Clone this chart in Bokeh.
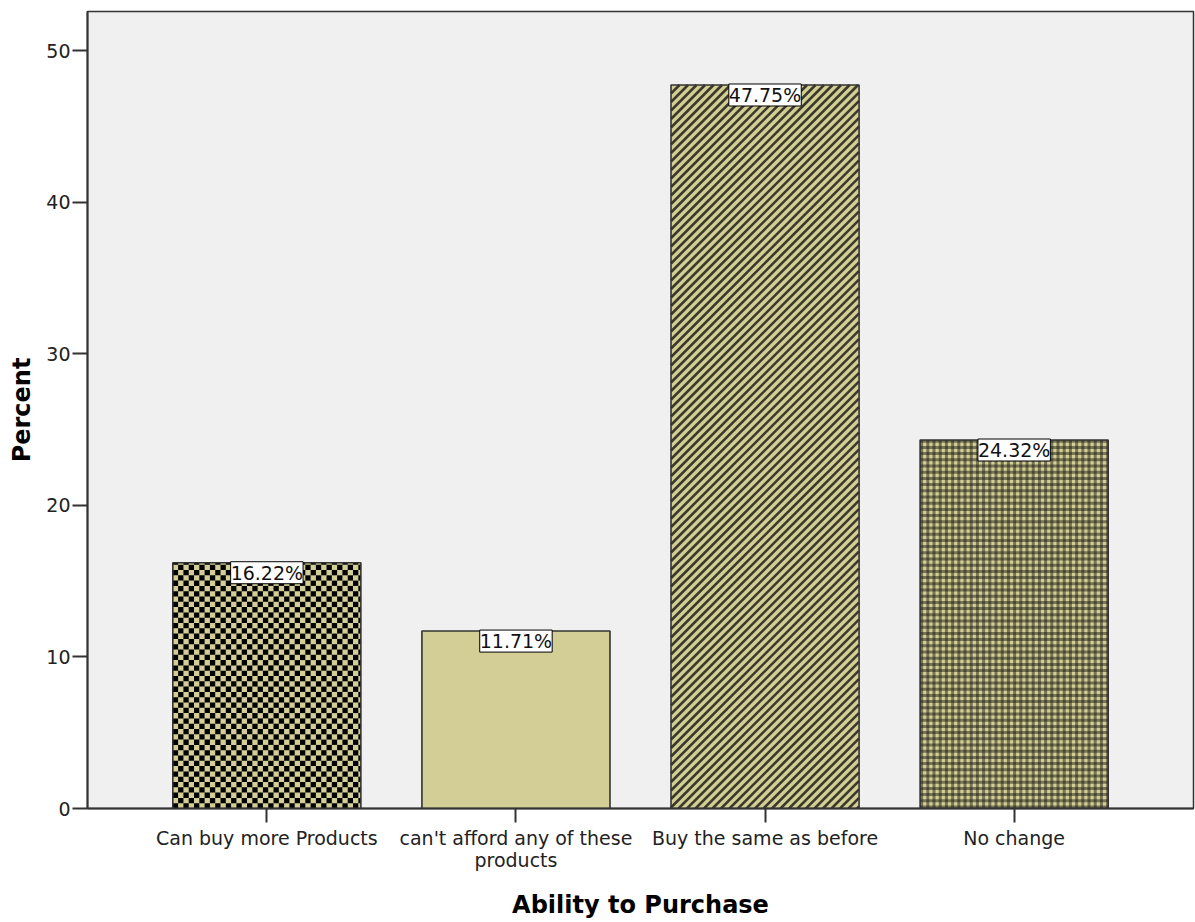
import math
from bokeh.plotting import figure
from bokeh.models import ColumnDataSource, Range1d, LabelSet, FixedTicker
from bokeh.core.properties import value
from bokeh.embed import file_html
from bokeh.resources import INLINE

# Survey responses: ability to purchase
categories = ["Can buy more Products", "can't afford any of these\nproducts",
              "Buy the same as before", "No change"]
percent = [16.22, 11.71, 47.75, 24.32]
y_ticks = [0, 10, 20, 30, 40, 50]

# fill pattern per category
fills = ["checker", "plain", "diagonal", "gingham"]

TAN = "#d3ce96"
DARK = "#1c1c12"

WIDTH, HEIGHT = 1195, 922
B_LEFT, B_RIGHT, B_TOP, B_BOTTOM = 87, 2, 11, 114
FRAME_W = WIDTH - B_LEFT - B_RIGHT
FRAME_H = HEIGHT - B_TOP - B_BOTTOM
PAD = 0.22
Y_MAX = 52.6
BAR_W = 0.755

X0, X1 = -PAD, len(categories) + PAD
px_x = FRAME_W / (X1 - X0)      # pixels per x unit
px_y = FRAME_H / Y_MAX          # pixels per y unit

centers = [i + 0.5 for i in range(len(categories))]


def dx(px):
    return px / px_x + X0


def dy(py):
    return py / px_y


p = figure(width=WIDTH, height=HEIGHT, output_backend="svg", toolbar_location=None,
           x_range=Range1d(X0, X1), y_range=Range1d(0, Y_MAX),
           min_border_left=B_LEFT, min_border_right=B_RIGHT,
           min_border_top=B_TOP, min_border_bottom=B_BOTTOM)

p.background_fill_color = "#f0f0f0"
p.border_fill_color = "white"
p.outline_line_color = "#333333"
p.outline_line_width = 1.5
p.xgrid.grid_line_color = None
p.ygrid.grid_line_color = None

src = ColumnDataSource(dict(x=centers, pct=percent,
                            label=[f"{v:.2f}%" for v in percent]))

# base tan fill
p.vbar(x="x", top="pct", width=BAR_W, source=src,
       fill_color=TAN, line_color=None)

# pattern overlays, built in pixel space and mapped to data space
chk = dict(left=[], right=[], bottom=[], top=[])
gh = dict(left=[], right=[], bottom=[], top=[])
gv = dict(left=[], right=[], bottom=[], top=[])
diag_xs, diag_ys = [], []

for xc, pct, kind in zip(centers, percent, fills):
    L = (xc - BAR_W / 2 - X0) * px_x
    R = (xc + BAR_W / 2 - X0) * px_x
    T = pct * px_y
    if kind == "checker":
        c = 5.3
        nx = math.ceil((R - L) / c)
        ny = math.ceil(T / c)
        for ix in range(nx):
            for iy in range(ny):
                if (ix + iy) % 2 == 0:
                    chk["left"].append(dx(L + ix * c))
                    chk["right"].append(dx(min(L + (ix + 1) * c, R)))
                    chk["bottom"].append(dy(iy * c))
                    chk["top"].append(dy(min((iy + 1) * c, T)))
    elif kind == "gingham":
        c, w = 6.2, 3.0
        y = 0.0
        while y < T:
            gh["left"].append(dx(L)); gh["right"].append(dx(R))
            gh["bottom"].append(dy(y)); gh["top"].append(dy(min(y + w, T)))
            y += c
        x = L
        while x < R:
            gv["left"].append(dx(x)); gv["right"].append(dx(min(x + w, R)))
            gv["bottom"].append(dy(0)); gv["top"].append(dy(T))
            x += c
    elif kind == "diagonal":
        step = 8.5
        k = L - T
        while k < R:
            xa = max(L, k)
            xb = min(R, T + k)
            if xb > xa:
                diag_xs.append([dx(xa), dx(xb)])
                diag_ys.append([dy(xa - k), dy(xb - k)])
            k += step

p.quad(source=ColumnDataSource(chk), left="left", right="right", bottom="bottom", top="top",
       fill_color="#000000", line_color=None)
p.quad(source=ColumnDataSource(gh), left="left", right="right", bottom="bottom", top="top",
       fill_color=DARK, fill_alpha=0.5, line_color=None)
p.quad(source=ColumnDataSource(gv), left="left", right="right", bottom="bottom", top="top",
       fill_color=DARK, fill_alpha=0.5, line_color=None)
p.multi_line(xs=diag_xs, ys=diag_ys,
             line_color="#2a2a1e", line_width=2.6, line_alpha=0.9)

# bar outlines
p.vbar(x="x", top="pct", width=BAR_W, source=src,
       fill_color=None, line_color="#333333", line_width=1.6)

labels = LabelSet(x="x", y="pct", text="label", source=src,
                  text_align="center", text_baseline="top", y_offset=1,
                  text_font=value("DejaVu Sans"), text_font_size="19px", text_color="#111111",
                  background_fill_color="white", border_line_color="black",
                  border_line_width=1)
p.add_layout(labels)

# axes
for ax in (p.xaxis[0], p.yaxis[0]):
    ax.axis_line_color = "#333333"
    ax.axis_line_width = 2
    ax.major_tick_line_color = "#333333"
    ax.major_tick_line_width = 2
    ax.major_tick_in = 0
    ax.minor_tick_line_color = None
    ax.major_label_text_font = "DejaVu Sans"
    ax.major_label_text_font_size = "19px"
    ax.major_label_text_color = "#222222"
    ax.axis_label_text_font = "DejaVu Sans"
    ax.axis_label_text_font_style = "bold"
    ax.axis_label_text_font_size = "24px"
    ax.axis_label_text_color = "#000000"

p.yaxis.ticker = FixedTicker(ticks=y_ticks, minor_ticks=[])
p.yaxis.major_tick_out = 15
p.yaxis.major_label_standoff = 2
p.yaxis.axis_label = "Percent"
p.yaxis.axis_label_standoff = 7

p.xaxis.ticker = FixedTicker(ticks=centers, minor_ticks=[])
p.xaxis.major_label_overrides = {xc: name for xc, name in zip(centers, categories)}
p.xaxis.major_tick_out = 14
p.xaxis.major_label_standoff = 4
p.xaxis.major_label_text_line_height = 1.0
p.xaxis.axis_label = "Ability to Purchase"
p.xaxis.axis_label_standoff = 17

open("out.html", "w").write(file_html(p, INLINE))
